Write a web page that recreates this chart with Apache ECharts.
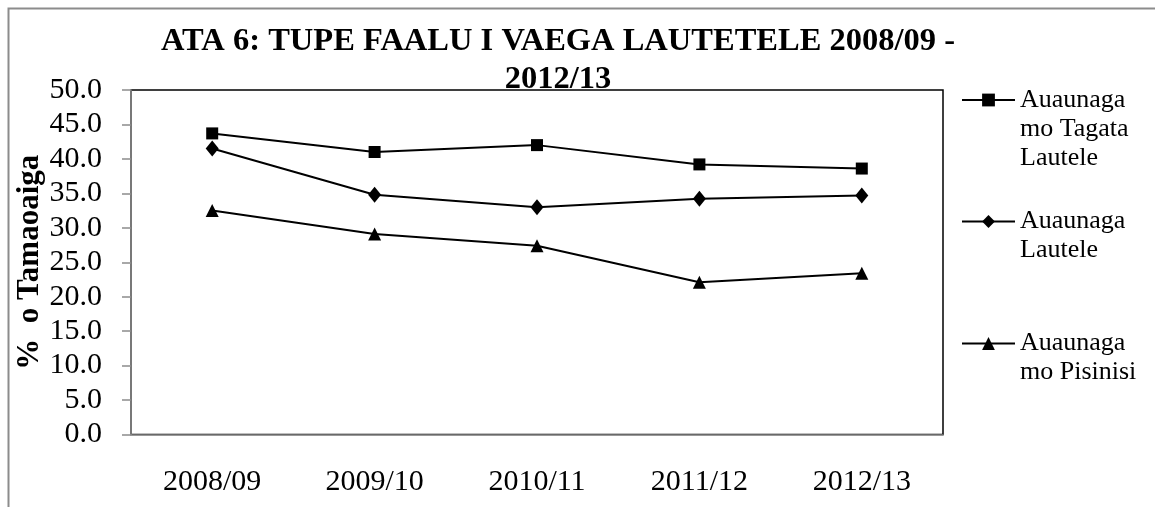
<!DOCTYPE html>
<html>
<head>
<meta charset="utf-8">
<script src="https://cdn.jsdelivr.net/npm/echarts@6/dist/echarts.min.js"></script>
<style>
  html, body { margin: 0; padding: 0; background: #fff; }
  #chart { width: 1155px; height: 507px; }
</style>
</head>
<body>
<div id="chart"></div>
<script>
// data
const years = ["2008/09", "2009/10", "2010/11", "2011/12", "2012/13"]
const seriesNames = ["Auaunaga mo Tagata Lautele", "Auaunaga Lautele", "Auaunaga mo Pisinisi"]
const legendLines = [
  ["Auaunaga", "mo Tagata", "Lautele"],
  ["Auaunaga", "Lautele"],
  ["Auaunaga", "mo Pisinisi"]
]
const tagataLautele = [43.7, 41.0, 42.0, 39.2, 38.6]
const lautele = [41.5, 34.8, 33.0, 34.2, 34.7]
const pisinisi = [32.5, 29.1, 27.4, 22.1, 23.4]
const yTicks = { min: 0, max: 50, interval: 5 }

const serif = "'Liberation Serif', 'Times New Roman', serif"
const gray = "#8c8c8c"
const lineH = 29

// one legend per series; blank lines in front keep the marker on the first text line
function makeLegend(i, top) {
  const lines = legendLines[i]
  const pad = lines.slice(1).map(() => " ")
  return {
    left: 961,
    top: top,
    padding: 0,
    orient: "vertical",
    itemWidth: 53,
    itemHeight: 16,
    selectedMode: false,
    data: [seriesNames[i]],
    formatter: () => pad.concat(lines).join("\n"),
    textStyle: { fontFamily: serif, fontSize: 26, lineHeight: lineH, color: "#000" }
  }
}

function lineSeries(name, data, symbol, size) {
  return {
    name,
    type: "line",
    data,
    symbol,
    symbolSize: size,
    z: 3,
    lineStyle: { color: "#000", width: 2 },
    itemStyle: { color: "#000" }
  }
}

const chart = echarts.init(document.getElementById("chart"))
chart.setOption({
  backgroundColor: "#fff",
  animation: false,
  title: {
    text: "ATA 6: TUPE FAALU I VAEGA LAUTETELE 2008/09 -\n2012/13",
    left: 558,
    top: 23,
    padding: 0,
    textAlign: "center",
    z: 0,
    textStyle: { fontFamily: serif, fontSize: 32.5, fontWeight: "bold", lineHeight: 38, color: "#000" }
  },
  legend: [makeLegend(0, 27.5), makeLegend(1, 178), makeLegend(2, 300)],
  grid: {
    left: 131,
    top: 90,
    right: 212,
    bottom: 72.5,
    show: true,
    z: 1,
    backgroundColor: "#fff",
    borderColor: "#000",
    borderWidth: 1.5
  },
  xAxis: {
    type: "category",
    data: years,
    z: 2,
    axisLine: { lineStyle: { color: gray, width: 1.5 } },
    axisTick: { length: 9, lineStyle: { color: gray, width: 1.5 } },
    axisLabel: { margin: 33, fontFamily: serif, fontSize: 30, color: "#000" }
  },
  yAxis: {
    type: "value",
    min: yTicks.min,
    max: yTicks.max,
    interval: yTicks.interval,
    z: 2,
    name: "%  o Tamaoaiga",
    nameLocation: "middle",
    nameGap: 86,
    nameMoveOverlap: false,
    nameTextStyle: { fontFamily: serif, fontSize: 31, fontWeight: "bold", color: "#000" },
    axisLine: { show: true, lineStyle: { color: gray, width: 1.5 } },
    axisTick: { show: true, length: 9, lineStyle: { color: gray, width: 1.5 } },
    axisLabel: {
      margin: 29,
      fontFamily: serif,
      fontSize: 30,
      color: "#000",
      formatter: v => v.toFixed(1)
    },
    splitLine: { show: false }
  },
  graphic: [{
    type: "polyline",
    z: 10,
    shape: { points: [[8.5, 507], [8.5, 8.5], [1155, 8.5]] },
    style: { stroke: gray, lineWidth: 2, fill: null }
  }],
  series: [
    lineSeries(seriesNames[0], tagataLautele, "rect", 12),
    lineSeries(seriesNames[1], lautele, "diamond", [13, 16]),
    lineSeries(seriesNames[2], pisinisi, "triangle", 13)
  ]
})
</script>
</body>
</html>
